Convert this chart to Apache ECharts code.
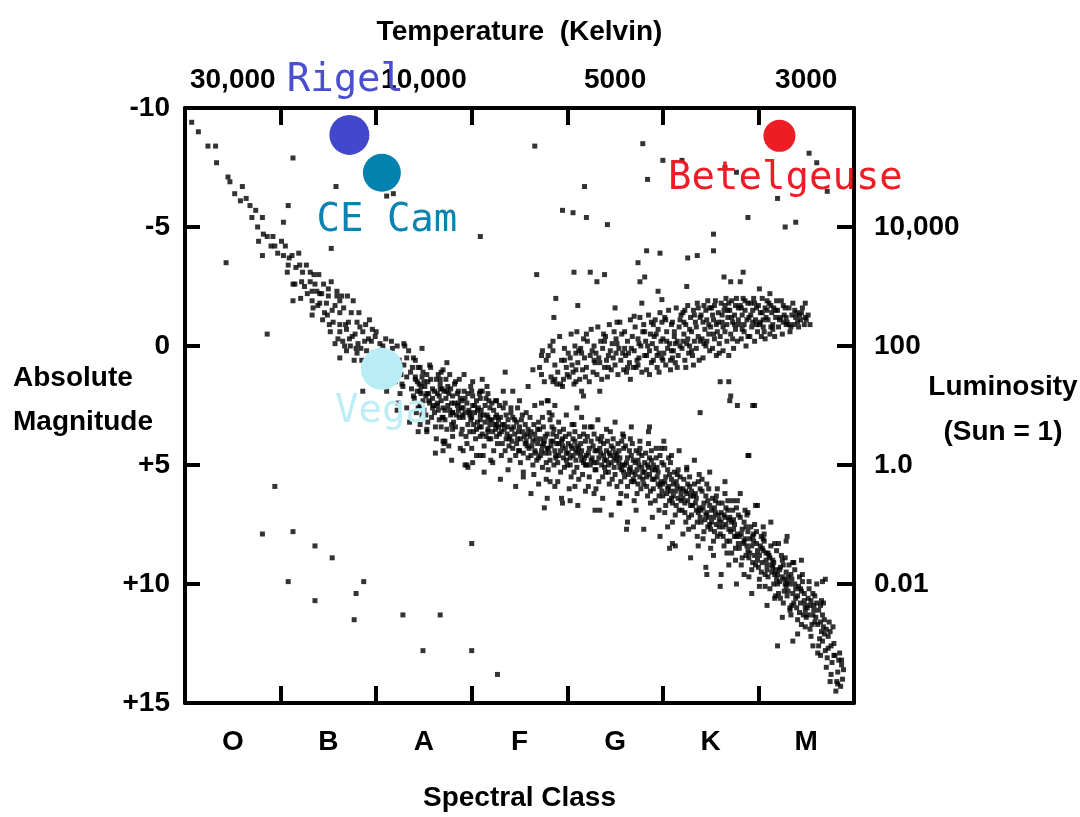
<!DOCTYPE html>
<html><head><meta charset="utf-8">
<script src="https://cdn.jsdelivr.net/npm/echarts@6/dist/echarts.min.js"></script>
<style>html,body{margin:0;padding:0;background:#fff}#c{width:1080px;height:817px}</style>
</head><body><div id="c"></div>
<script>
// ---- axis content ----
const spectralClasses = ['O','B','A','F','G','K','M'];
const temperatureLabels = ['30,000','','10,000','','5000','','3000'];
const magnitudeTicks = [-10,-5,0,5,10,15];
const luminosityLabels = ['','10,000','100','1.0','0.01',''];

// ---- named stars: [spectral position (0-70), absolute magnitude] ----
const starNames = ['Rigel','CE Cam','Betelgeuse','Vega'];
const starValues = [[17.2,-8.87],[20.6,-7.28],[62.2,-8.83],[20.6,0.96]];

// ---- star field: [spectral position (O0=0 ... M=60-70), absolute magnitude] ----
const mainSequenceUpper = [
[0.7,-9.4],[1.4,-9.0],[2.4,-8.4],[3.2,-8.4],[3.3,-7.7],[4.5,-7.1],[4.7,-6.9],[5.2,-6.4],[6.0,-6.7],[6.4,-6.2],[5.8,-6.1],[6.8,-5.9],[7.4,-5.7],[7.0,-5.4],[8.1,-5.4],[7.6,-5.0],[8.2,-4.7],[7.7,-4.4],[8.6,-4.6],[9.0,-4.2],[8.1,-3.8],[9.4,-4.2],[10.5,-4.2],[10.3,-3.8],[11.2,-3.8],[10.8,-3.4],[10.7,-3.1],[12.0,-3.4],[12.3,-3.1],[13.1,-3.1],[11.5,-2.6],[12.2,-2.7],[13.6,-2.6],[13.8,-2.3],[13.3,-1.9],[14.3,-2.2],[15.0,-2.1],[15.9,-2.1],[16.2,-1.9],
[11.3,-2.6],[13.1,-2.7],[11.3,-1.9],[13.3,-2.3],[14.1,-2.2],[15.0,-2.4],[15.9,-2.3],[16.4,-2.1],[13.4,-1.6],[14.1,-1.8],[14.6,-1.4],[15.4,-1.5],[16.2,-1.4],[13.3,-1.3],[14.4,-1.1],[15.5,-1.0],[16.2,-0.9],[17.1,-1.0],[18.0,-1.0],[15.2,-0.6],[16.2,-0.6],[16.9,-0.7],[17.8,-0.5],[18.6,-0.6],[19.6,-0.7],[15.7,-0.1],[16.5,-0.2],[17.3,0.0],[18.1,-0.1],[18.8,-0.2],[19.9,-0.4],[16.2,0.5],[16.9,0.2],[18.0,0.3],[20.7,0.0],[21.7,0.1],[19.4,0.5],[20.9,0.8],[22.0,1.0],
[17.5,-0.4],[18.4,0.1],[19.0,0.2],[19.2,-0.3],[20.1,0.4],[20.4,-0.1],[21.2,0.5],[21.5,0.9],[22.4,0.6],[22.6,1.2],[17.7,0.6],[19.8,1.0],[14.8,-1.8],[12.8,-2.2],[17.4,-1.4],[18.3,-0.8],
[9.2,-4.6],[9.7,-3.9],[10.1,-4.4],[10.9,-3.7],[11.6,-3.3],[11.9,-3.9],[12.5,-2.5],[12.7,-3.4],[13.5,-3.0],[13.9,-1.7],[14.5,-2.6],[14.9,-1.3],[15.3,-2.7],[15.7,-1.7],[16.0,-0.3],[16.6,-1.6],[16.8,-0.9],[17.2,-0.3],[17.6,-1.9],[17.9,0.1],[18.2,-1.4],[18.5,0.6],[18.9,-0.9],[19.1,0.9],[19.5,-0.2],[19.7,0.3],[20.0,-0.6],[20.2,1.2],[20.5,0.2],[21.0,-0.3],[21.4,1.4],[21.8,0.5],[22.2,0.0],[22.7,1.6],[22.9,0.8],[23.4,0.2],[23.6,1.1],[23.9,2.1],[12.1,-2.0],[14.0,-3.0],[15.1,-0.9],[16.7,0.0],[17.0,-2.1],[19.3,-1.1],[20.8,1.6],[21.6,-0.2],[22.5,2.0],[23.0,0.0],
[23.2,0.5],[23.8,0.9],[24.6,0.9],[23.2,1.3],[24.1,1.4],[24.8,1.3],[25.4,1.5],[26.7,1.4],[27.7,1.2],[27.0,1.0],[22.8,1.7],[23.7,1.8],[24.6,1.9],[25.3,2.0],[25.9,2.2],[26.7,1.8],[27.4,1.9],[28.0,2.1],[28.6,2.4],[26.4,2.5],[27.2,2.7],[28.0,2.8],[29.0,2.9],[29.8,2.8],[30.1,1.5],[31.1,1.4],[30.9,1.9],[31.7,2.0],[32.6,2.3],[30.1,2.5],[30.9,3.1],[31.9,3.1],[32.6,3.3],[31.7,3.5],[28.0,3.8],[27.0,4.0],[29.1,4.4],[30.1,4.9],[29.5,5.0],[30.9,4.6],[18.6,1.9],[21.1,1.9],[22.0,1.5],[23.2,2.6],[22.2,2.7],[26.8,3.4],[27.2,4.0],[27.0,4.4],[29.3,5.0]
];
const mainSequenceLower = [
[24.1,1.3],[24.6,2.5],[24.3,1.9],[24.9,1.1],[24.2,2.8],[24.7,2.0],[24.4,0.9],[24.8,2.9],[24.5,1.6],[24.0,2.2],[24.6,3.3],[24.3,1.5],[24.9,2.3],[24.1,0.6],[24.7,1.7],[24.4,2.6],
[25.2,2.1],[25.7,1.4],[25.0,2.7],[25.5,2.0],[25.9,2.6],[25.3,1.2],[25.8,3.0],[25.1,1.7],[25.6,2.4],[25.4,3.2],[25.9,1.8],[25.2,2.9],[25.7,0.9],[25.5,2.3],[25.0,1.5],[25.3,3.6],
[26.4,2.0],[26.1,2.8],[26.8,2.3],[26.3,1.4],[26.6,3.1],[26.0,2.5],[26.9,1.8],[26.5,2.7],[26.2,3.4],[26.7,1.6],[26.4,2.4],[26.9,3.0],[26.1,1.9],[26.6,2.1],[26.3,3.9],[26.8,1.1],
[27.3,2.2],[27.8,2.9],[27.0,2.6],[27.5,1.7],[27.9,2.4],[27.2,3.1],[27.6,2.0],[27.4,3.5],[27.1,1.9],[27.7,2.7],[27.3,1.4],[27.9,3.3],[27.5,2.5],[27.0,3.0],[27.8,1.8],[27.6,4.2],
[28.2,2.4],[28.7,3.0],[28.5,2.0],[28.0,2.8],[28.9,2.6],[28.3,3.4],[28.6,1.9],[28.1,3.2],[28.8,2.2],[28.4,2.9],[28.9,3.7],[28.2,1.6],[28.6,2.7],[28.0,3.5],[28.5,2.5],[28.7,1.4],
[29.1,2.6],[29.6,3.3],[29.3,2.2],[29.8,2.9],[29.0,3.5],[29.5,2.4],[29.9,3.1],[29.2,1.9],[29.7,2.7],[29.4,3.8],[29.1,3.0],[29.6,2.0],[29.8,3.6],[29.3,2.8],[29.0,2.3],[29.5,4.1],[29.9,1.7],
[30.3,2.8],[30.8,3.4],[30.0,3.0],[30.5,2.3],[30.9,2.9],[30.2,3.6],[30.7,2.6],[30.4,3.9],[30.1,2.1],[30.6,3.2],[30.9,3.8],[30.3,2.5],[30.8,2.0],[30.5,3.5],[30.0,4.3],[30.6,2.7],[30.2,3.3],
[31.2,2.9],[31.7,3.6],[31.4,3.2],[31.9,2.6],[31.0,3.4],[31.5,2.2],[31.8,3.9],[31.1,3.7],[31.6,2.9],[31.3,4.2],[31.9,3.3],[31.4,2.5],[31.7,3.0],[31.0,2.7],[31.5,3.8],[31.2,4.6],[31.8,2.3],
[32.1,3.1],[32.6,3.8],[32.3,2.7],[32.8,3.4],[32.0,3.9],[32.5,3.0],[32.9,2.5],[32.2,3.6],[32.7,4.1],[32.4,3.3],[32.9,3.7],[32.1,2.4],[32.6,2.9],[32.3,4.4],[32.8,3.1],[32.5,3.5],[32.0,4.8],
[33.4,3.3],[33.9,3.9],[33.1,3.6],[33.6,2.9],[33.2,4.1],[33.8,3.4],[33.5,4.4],[33.0,3.0],[33.7,3.7],[33.3,2.6],[33.9,4.2],[33.4,3.5],[33.6,3.9],[33.1,4.6],[33.8,3.1],[33.2,3.3],[33.5,2.4],
[34.2,3.5],[34.7,4.1],[34.0,3.8],[34.5,3.1],[34.9,3.6],[34.3,4.3],[34.8,3.9],[34.1,2.8],[34.6,4.6],[34.4,3.4],[34.9,4.4],[34.2,4.0],[34.7,3.2],[34.0,4.8],[34.5,3.7],[34.8,2.6],[34.3,3.0],
[35.3,3.6],[35.8,4.2],[35.1,3.9],[35.6,3.3],[35.0,4.4],[35.5,3.8],[35.9,4.7],[35.2,3.1],[35.7,4.0],[35.4,4.5],[35.9,3.5],[35.1,4.9],[35.6,4.1],[35.3,2.9],[35.8,3.7],[35.0,3.4],[35.4,5.3],
[36.1,3.8],[36.6,4.4],[36.4,4.0],[36.9,3.5],[36.2,4.6],[36.7,3.9],[36.0,4.3],[36.5,3.3],[36.8,4.8],[36.3,4.2],[36.9,4.1],[36.1,3.0],[36.6,3.7],[36.4,5.0],[36.7,4.5],[36.2,3.6],[36.5,5.4],
[37.2,3.9],[37.7,4.5],[37.4,4.2],[37.9,3.7],[37.0,4.7],[37.5,3.4],[37.8,4.9],[37.3,4.4],[37.6,4.0],[37.1,3.5],[37.9,4.3],[37.4,5.1],[37.7,3.8],[37.2,4.6],[37.5,4.1],[37.0,3.2],[37.8,5.6],
[38.3,4.0],[38.8,4.6],[38.0,4.3],[38.5,3.7],[38.9,4.1],[38.2,4.8],[38.7,4.4],[38.4,3.4],[38.1,4.5],[38.6,5.0],[38.9,3.8],[38.3,4.2],[38.6,3.5],[38.0,5.2],[38.8,4.7],[38.5,4.0],[38.2,3.1],
[39.1,4.1],[39.6,4.7],[39.3,4.4],[39.8,3.8],[39.0,4.9],[39.5,4.2],[39.9,4.5],[39.2,3.6],[39.7,5.1],[39.4,4.0],[39.9,4.8],[39.1,4.6],[39.6,3.5],[39.3,5.3],[39.8,4.3],[39.5,3.9],[39.0,5.7],
[40.4,4.2],[40.9,4.8],[40.1,4.5],[40.6,3.9],[40.0,5.0],[40.5,4.3],[40.8,4.0],[40.3,4.7],[40.7,5.3],[40.2,3.7],[40.9,4.4],[40.4,5.5],[40.6,4.6],[40.1,4.1],[40.8,3.6],[40.3,5.0],[40.5,3.3],
[41.2,4.3],[41.7,4.9],[41.4,4.6],[41.9,4.0],[41.0,5.1],[41.5,4.4],[41.8,4.7],[41.3,3.8],[41.6,5.4],[41.1,4.5],[41.9,5.0],[41.4,4.1],[41.7,3.7],[41.2,5.6],[41.5,4.8],[41.0,4.2],[41.8,3.4],
[42.3,4.3],[42.8,4.9],[42.0,4.6],[42.5,4.0],[42.9,5.2],[42.2,4.5],[42.7,4.2],[42.4,5.0],[42.1,3.8],[42.6,4.7],[42.9,4.4],[42.3,5.5],[42.8,3.7],[42.0,5.0],[42.5,4.8],[42.6,3.4],[42.2,5.9],
[43.1,4.4],[43.6,5.0],[43.3,4.7],[43.8,4.1],[43.0,5.2],[43.5,4.5],[43.9,4.8],[43.2,3.9],[43.7,5.5],[43.4,4.3],[43.9,5.1],[43.1,4.9],[43.6,3.8],[43.3,5.7],[43.8,4.6],[43.5,4.0],[43.0,6.0],
[44.4,4.5],[44.9,5.1],[44.1,4.8],[44.6,4.2],[44.0,5.3],[44.5,4.6],[44.8,4.3],[44.3,5.0],[44.7,5.6],[44.2,4.0],[44.9,4.7],[44.4,5.8],[44.6,4.9],[44.1,4.4],[44.8,3.9],[44.3,5.3],[44.5,3.6],
[45.2,4.6],[45.7,5.2],[45.4,4.9],[45.9,4.3],[45.0,5.4],[45.5,4.7],[45.8,5.0],[45.3,4.1],[45.6,5.7],[45.1,4.8],[45.9,5.3],[45.4,4.4],[45.7,4.0],[45.2,5.9],[45.5,5.1],[45.0,4.5],[45.8,3.7],[45.6,6.2],
[46.3,4.7],[46.8,5.3],[46.0,5.0],[46.5,4.4],[46.9,5.6],[46.2,4.9],[46.7,4.6],[46.4,5.4],[46.1,4.2],[46.6,5.1],[46.9,4.8],[46.3,5.9],[46.8,4.1],[46.0,5.5],[46.5,5.2],[46.6,3.9],[46.2,6.3],[46.7,5.7],
[47.1,4.9],[47.6,5.5],[47.3,5.2],[47.8,4.6],[47.0,5.7],[47.5,5.0],[47.9,5.3],[47.2,4.4],[47.7,6.0],[47.4,4.8],[47.9,5.6],[47.1,5.4],[47.6,4.3],[47.3,6.2],[47.8,5.1],[47.5,4.5],[47.0,6.5],[47.4,5.8],
[48.4,5.0],[48.9,5.6],[48.1,5.3],[48.6,4.7],[48.0,5.8],[48.5,5.1],[48.8,4.8],[48.3,5.5],[48.7,6.1],[48.2,4.5],[48.9,5.2],[48.4,6.3],[48.6,5.4],[48.1,4.9],[48.8,4.4],[48.3,5.9],[48.5,4.1],[48.7,6.6],
[49.2,5.2],[49.7,5.9],[49.4,5.5],[49.9,4.9],[49.0,6.0],[49.5,5.3],[49.8,5.7],[49.3,4.7],[49.6,6.3],[49.1,5.6],[49.9,6.1],[49.4,5.1],[49.7,4.6],[49.2,6.5],[49.5,5.8],[49.0,5.0],[49.8,4.3],[49.6,6.9],
[50.3,5.5],[50.8,6.1],[50.0,5.8],[50.5,5.2],[50.9,6.4],[50.2,5.7],[50.7,5.4],[50.4,6.2],[50.1,5.0],[50.6,5.9],[50.9,5.6],[50.3,6.7],[50.8,4.9],[50.0,6.3],[50.5,6.0],[50.6,4.7],[50.2,7.0],[50.7,6.5],
[51.1,5.8],[51.6,6.4],[51.3,6.1],[51.8,5.5],[51.0,6.6],[51.5,5.9],[51.9,6.2],[51.2,5.3],[51.7,6.9],[51.4,5.7],[51.9,6.5],[51.1,6.3],[51.6,5.2],[51.3,7.1],[51.8,6.0],[51.5,5.4],[51.0,7.4],[51.4,6.7],
[52.4,6.1],[52.9,6.7],[52.1,6.4],[52.6,5.8],[52.0,6.9],[52.5,6.2],[52.8,5.9],[52.3,6.6],[52.7,7.2],[52.2,5.6],[52.9,6.3],[52.4,7.4],[52.6,6.5],[52.1,6.0],[52.8,5.5],[52.3,7.0],[52.5,5.2],[52.7,7.7],
[53.2,6.3],[53.7,7.0],[53.4,6.6],[53.9,6.0],[53.0,7.1],[53.5,6.4],[53.8,6.8],[53.3,5.8],[53.6,7.4],[53.1,6.7],[53.9,7.2],[53.4,6.2],[53.7,5.7],[53.2,7.6],[53.5,6.9],[53.0,6.1],[53.8,5.4],[53.6,8.0],
[54.3,6.6],[54.8,7.2],[54.0,6.9],[54.5,6.3],[54.9,7.5],[54.2,6.8],[54.7,6.5],[54.4,7.3],[54.1,6.1],[54.6,7.0],[54.9,6.7],[54.3,7.8],[54.8,6.0],[54.0,7.4],[54.5,7.1],[54.6,5.8],[54.2,8.1],[54.7,7.6],
[55.1,6.9],[55.6,7.5],[55.3,7.2],[55.8,6.6],[55.0,7.7],[55.5,7.0],[55.9,7.3],[55.2,6.4],[55.7,8.0],[55.4,6.8],[55.9,7.6],[55.1,7.4],[55.6,6.3],[55.3,8.2],[55.8,7.1],[55.5,6.5],[55.0,8.5],[55.4,7.8],
[56.4,7.1],[56.9,7.7],[56.1,7.4],[56.6,6.8],[56.0,7.9],[56.5,7.2],[56.8,6.9],[56.3,7.6],[56.7,8.2],[56.2,6.6],[56.9,7.3],[56.4,8.4],[56.6,7.5],[56.1,7.0],[56.8,6.5],[56.3,8.0],[56.5,6.2],[56.7,8.7],
[57.2,7.4],[57.7,8.0],[57.4,7.7],[57.9,7.1],[57.0,8.2],[57.5,7.5],[57.8,7.9],[57.3,6.9],[57.6,8.5],[57.1,7.8],[57.9,8.3],[57.4,7.3],[57.7,6.8],[57.2,8.7],[57.5,8.0],[57.0,7.2],[57.8,6.5],[57.6,9.0],
[58.3,7.7],[58.8,8.4],[58.0,8.0],[58.5,7.4],[58.9,8.6],[58.2,7.9],[58.7,7.6],[58.4,8.3],[58.1,7.2],[58.6,8.1],[58.9,7.8],[58.3,8.9],[58.8,7.1],[58.0,8.5],[58.5,8.2],[58.6,6.9],[58.2,9.2],[58.7,8.8],
[59.1,8.1],[59.6,8.8],[59.3,8.4],[59.8,7.8],[59.0,8.9],[59.5,8.2],[59.9,8.6],[59.2,7.6],[59.7,9.2],[59.4,8.0],[59.9,9.0],[59.1,8.7],[59.6,7.5],[59.3,9.4],[59.8,8.3],[59.5,7.9],[59.0,9.7],[59.4,9.1],
[60.4,8.5],[60.9,9.2],[60.1,8.8],[60.6,8.2],[60.0,9.3],[60.5,8.6],[60.8,9.0],[60.3,8.0],[60.7,9.6],[60.2,8.4],[60.9,9.4],[60.4,9.1],[60.6,7.9],[60.1,9.8],[60.8,8.7],[60.3,9.5],[60.5,8.1],[60.7,10.1],
[61.2,8.9],[61.7,9.6],[61.4,9.2],[61.9,8.6],[61.0,9.7],[61.5,9.0],[61.8,9.4],[61.3,8.4],[61.6,10.0],[61.1,8.8],[61.9,9.8],[61.4,9.5],[61.7,8.3],[61.2,10.2],[61.5,9.3],[61.0,8.7],[61.8,10.5],[61.6,9.1],
[62.3,9.3],[62.8,10.0],[62.0,9.6],[62.5,9.0],[62.9,10.1],[62.2,9.4],[62.7,9.8],[62.4,8.8],[62.1,10.4],[62.6,9.2],[62.9,9.5],[62.3,10.6],[62.8,8.9],[62.0,10.0],[62.5,9.7],[62.6,10.8],[62.2,9.9],[62.7,10.3],
[63.1,9.7],[63.6,10.4],[63.3,10.0],[63.8,9.4],[63.0,10.5],[63.5,9.8],[63.9,10.2],[63.2,9.2],[63.7,10.8],[63.4,9.6],[63.9,10.6],[63.1,10.3],[63.6,9.1],[63.3,11.0],[63.8,10.0],[63.5,10.9],[63.0,9.9],[63.4,11.3],
[64.4,10.2],[64.9,10.9],[64.1,10.5],[64.6,9.9],[64.0,11.0],[64.5,10.3],[64.8,10.7],[64.3,9.7],[64.7,11.3],[64.2,10.1],[64.9,11.1],[64.4,10.8],[64.6,9.6],[64.1,11.5],[64.8,10.4],[64.3,11.2],[64.5,11.7],
[65.2,10.6],[65.7,11.3],[65.4,10.9],[65.9,10.5],[65.0,11.4],[65.5,10.7],[65.8,11.1],[65.3,10.2],[65.6,11.7],[65.1,11.0],[65.9,11.6],[65.4,11.9],[65.7,10.4],[65.2,11.3],[65.5,12.2],[65.8,10.9],
[66.3,11.1],[66.8,11.8],[66.0,11.4],[66.5,10.9],[66.9,12.1],[66.2,11.7],[66.7,11.3],[66.4,12.3],[66.1,10.8],[66.6,12.0],[66.9,11.5],[66.3,12.6],[66.8,10.8],[66.5,11.6],[66.2,12.9],[66.7,12.4],
[67.1,11.9],[67.6,12.6],[67.3,12.2],[67.8,11.8],[67.0,12.8],[67.5,12.0],[67.9,12.5],[67.2,13.1],[67.7,13.3],[67.4,11.6],[67.9,13.0],[67.1,13.5],[67.6,13.8],[67.3,12.7],[67.5,14.1],
[68.0,13.0],[68.3,13.7],[68.5,12.9],[68.7,13.4],[68.2,14.1],[68.6,14.3],[68.9,13.6],[68.4,13.2],[68.1,14.5],[68.8,14.0]
];
const mainSequenceHalo = [
[22.3,2.4],[22.9,-0.1],[23.5,3.2],[23.9,0.5],[24.4,3.6],[24.8,0.1],[25.3,3.5],[25.6,0.8],[26.2,4.5],[26.5,1.2],[27.1,4.1],[27.4,0.7],[27.9,4.8],[28.3,1.5],[28.8,4.3],[29.2,1.2],[29.6,5.1],[30.0,1.9],[30.5,4.6],[30.9,2.2],[31.3,5.3],[31.6,1.7],[32.2,4.9],[32.5,2.3],[33.0,5.6],[33.3,1.9],[33.8,5.2],[34.1,2.6],[34.6,5.9],[35.0,2.3],[35.4,5.5],[35.7,2.8],[36.2,6.2],[36.6,2.5],[37.0,5.8],[37.4,3.0],[37.9,6.4],[38.1,2.8],[38.7,5.9],[39.1,3.2],[39.5,6.6],[39.9,2.9],[40.2,6.0],[40.7,3.3],[41.1,6.7],[41.5,3.0],[41.9,6.1],[42.4,3.4],[42.9,6.9],[43.2,3.1],[43.7,6.4],[44.1,3.5],[44.6,7.1],[45.0,3.2],[45.4,6.6],[45.9,3.8],[46.3,7.4],[46.7,3.4],[47.2,6.9],[47.6,4.0],[48.0,7.7],[48.5,3.6],[48.9,7.2],[49.3,4.3],[49.7,8.0],[50.1,4.0],[50.5,7.6],[50.9,4.6],[51.3,8.4],[51.7,4.4],[52.1,7.9],[52.5,5.1],[52.9,8.9],[53.3,4.8],[53.7,8.4],[54.1,5.6],[54.5,9.3],[54.9,5.3],[55.3,8.8],[55.7,6.0],[56.1,9.6],[56.5,5.7],[56.9,9.2],[57.3,6.5],[57.7,10.0],[58.1,6.2],[58.5,9.6],[58.9,7.0],[59.3,10.4],[59.7,6.7],[60.1,10.1],[60.5,7.6],[60.9,10.9],[61.3,7.4],[61.7,10.6],[62.1,8.3],[62.5,11.4],[62.9,8.2],[63.3,11.1],[63.7,9.1],[64.1,12.1],[64.5,9.0],[64.9,11.8],[65.3,9.9],[65.7,12.6],[66.1,10.0],[66.5,13.0]
];
const mainSequenceStrays = [
[46.2,7.7],[51.0,8.3],[50.7,8.5],[54.6,9.6],[56.0,10.1],[62.0,12.6],[63.6,12.4],[58.9,4.6],[59.9,6.7],[63.0,8.0],[66.7,9.9],[67.0,9.8],[66.6,10.7],[68.7,13.2],[68.3,14.2],[38.2,5.7],[39.4,6.4],[40.3,6.5],[37.6,6.8],[43.4,6.9],[42.8,6.2],[40.8,5.9],[45.5,6.6]
];
const subgiants = [
[38.5,1.5],[33.5,1.1],[36.4,1.0],[31.1,1.9],[34.3,1.9],[35.9,1.7],[37.9,2.3],[38.7,2.5],[41.0,2.6],[43.4,1.9],[41.7,2.1],[48.6,3.4],[50.2,4.3],[37.3,0.4],[38.5,0.2],[39.7,0.6],[40.9,0.3],[38.4,2.9],[38.7,1.4],[39.5,1.7],[40.6,1.1],[41.5,1.9],[56.0,1.5],[57.0,2.3],[57.8,2.5],[59.4,2.5],[57.1,2.1],[59.6,2.5],[53.9,2.8],[59.0,4.6],[38.0,2.3],[37.3,2.4],[40.9,1.5],[56.9,1.5]
];
const giants = [
[37.1,0.9],[37.4,0.2],[37.6,1.5],[37.8,0.6],[37.3,1.2],
[38.0,0.4],[38.3,1.3],[38.5,-0.2],[38.7,0.8],[38.9,1.6],[38.2,0.0],
[39.0,1.1],[39.2,-0.4],[39.4,0.6],[39.6,1.4],[39.7,0.1],[39.9,0.9],[39.3,1.6],
[40.1,0.3],[40.2,1.3],[40.4,-0.5],[40.5,0.8],[40.7,1.6],[40.8,0.0],[40.9,1.0],[40.3,0.5],
[41.0,-0.6],[41.1,0.7],[41.3,1.4],[41.4,0.1],[41.6,1.0],[41.7,-0.3],[41.8,0.5],[41.9,1.3],[41.5,0.3],
[42.0,0.9],[42.1,-0.2],[42.3,1.5],[42.4,0.4],[42.5,-0.7],[42.7,1.1],[42.8,0.0],[42.9,0.7],[42.6,0.2],
[43.0,0.3],[43.1,1.2],[43.2,-0.8],[43.4,0.7],[43.5,-0.2],[43.6,1.4],[43.7,0.1],[43.8,-0.5],[43.9,0.9],[43.3,0.5],
[44.0,-0.4],[44.1,0.6],[44.2,1.3],[44.4,-0.9],[44.5,0.2],[44.6,1.0],[44.7,-0.1],[44.8,0.5],[44.9,-0.6],[44.3,0.9],
[45.0,0.8],[45.1,-0.3],[45.3,1.2],[45.4,0.1],[45.5,-1.0],[45.6,0.6],[45.7,-0.5],[45.8,0.3],[45.9,1.0],[45.2,-0.1],
[46.0,-0.6],[46.1,0.4],[46.2,1.1],[46.3,-0.2],[46.5,0.7],[46.6,-1.1],[46.7,0.1],[46.8,-0.4],[46.9,0.9],[46.4,0.3],[46.6,1.4],
[47.0,0.2],[47.1,-0.8],[47.2,0.9],[47.4,-0.3],[47.5,0.5],[47.6,-1.2],[47.7,0.0],[47.8,1.1],[47.9,-0.6],[47.3,0.6],[47.5,-0.1],
[48.0,-0.9],[48.1,0.4],[48.2,-0.2],[48.3,1.0],[48.5,-1.3],[48.6,0.2],[48.7,-0.5],[48.8,0.7],[48.9,-0.1],[48.4,0.0],[48.6,1.2],
[49.0,0.6],[49.1,-0.4],[49.2,-1.1],[49.3,0.1],[49.4,0.9],[49.5,-0.7],[49.6,0.3],[49.7,-1.4],[49.8,-0.2],[49.9,0.5],[49.3,-0.5],[49.6,1.1],
[50.0,-0.3],[50.1,0.3],[50.2,-1.2],[50.3,0.8],[50.4,-0.6],[50.5,0.1],[50.6,-1.5],[50.7,-0.1],[50.8,0.6],[50.9,-0.9],[50.4,-0.2],[50.8,1.0],
[51.0,-1.0],[51.1,0.2],[51.2,-0.4],[51.3,0.7],[51.4,-1.6],[51.5,-0.2],[51.6,0.4],[51.7,-0.8],[51.8,0.0],[51.9,-1.3],[51.5,0.9],[51.2,-0.6],
[52.0,0.1],[52.1,-1.4],[52.2,-0.5],[52.3,0.6],[52.4,-0.9],[52.5,-0.1],[52.6,-1.7],[52.7,0.3],[52.8,-0.7],[52.9,-1.2],[52.4,0.9],[52.6,-0.3],[52.2,-1.0],
[53.0,-0.6],[53.1,0.4],[53.2,-1.5],[53.3,-0.2],[53.4,-1.0],[53.5,0.1],[53.6,-1.8],[53.7,-0.4],[53.8,0.6],[53.9,-1.2],[53.5,-0.8],[53.2,0.8],[53.7,-1.6],
[54.0,-1.3],[54.1,-0.3],[54.2,0.5],[54.3,-1.7],[54.4,-0.7],[54.5,0.0],[54.6,-1.1],[54.7,-1.9],[54.8,-0.5],[54.9,0.2],[54.5,-1.5],[54.3,-0.1],[54.8,-0.9],
[55.0,-0.8],[55.1,-1.6],[55.2,0.1],[55.3,-1.1],[55.4,-0.3],[55.5,-1.9],[55.6,0.4],[55.7,-0.6],[55.8,-1.4],[55.9,-0.1],[55.4,-1.7],[55.6,-0.9],[55.2,-1.3],
[56.0,-0.4],[56.1,-1.8],[56.2,-1.0],[56.3,0.2],[56.4,-1.5],[56.5,-0.6],[56.6,-2.0],[56.7,-0.2],[56.8,-1.2],[56.9,0.4],[56.5,-1.7],[56.3,-0.8],[56.8,-1.5],
[57.0,-1.5],[57.1,-0.5],[57.2,-1.9],[57.3,-1.0],[57.4,0.1],[57.5,-1.3],[57.6,-0.7],[57.7,-2.0],[57.8,-0.2],[57.9,-1.6],[57.5,-0.9],[57.2,-1.2],
[58.0,-0.9],[58.1,-1.7],[58.2,-0.3],[58.3,-1.3],[58.4,-2.0],[58.5,-0.6],[58.6,-1.5],[58.7,0.0],[58.8,-1.1],[58.9,-1.8],[58.5,-0.9],[58.2,-1.6],
[59.0,-1.2],[59.1,-0.4],[59.2,-1.8],[59.3,-0.8],[59.4,-1.5],[59.5,-2.0],[59.6,-0.2],[59.7,-1.1],[59.8,-1.6],[59.9,-0.6],[59.4,-1.0],
[60.0,-1.7],[60.1,-0.9],[60.2,-1.4],[60.3,-0.4],[60.4,-2.0],[60.5,-1.1],[60.6,-0.6],[60.7,-1.6],[60.8,-1.2],[60.9,-1.9],[60.5,-0.8],
[61.0,-1.1],[61.1,-1.8],[61.2,-0.5],[61.4,-1.4],[61.5,-0.9],[61.6,-1.6],[61.7,-0.4],[61.8,-1.2],[61.9,-1.9],[61.3,-0.8],
[62.0,-1.5],[62.1,-0.8],[62.3,-1.2],[62.4,-1.9],[62.5,-0.5],[62.6,-1.0],[62.8,-1.6],[62.9,-0.9],[62.7,-1.3],
[63.0,-1.0],[63.2,-1.6],[63.3,-0.6],[63.5,-1.3],[63.6,-1.8],[63.7,-0.9],[63.9,-1.2],[63.4,-0.8],
[64.0,-1.4],[64.2,-0.8],[64.4,-1.1],[64.6,-1.6],[64.8,-0.9],[64.3,-1.3],
[65.0,-1.1],[65.2,-1.3],[65.4,-0.9],
[48.1,-0.6],[48.8,-1.0],[49.4,0.4],[49.9,-1.0],[50.3,-1.1],[50.9,0.2],[51.3,-0.1],[51.8,-1.1],[52.3,-1.5],[52.8,0.0],[53.3,-1.3],[53.9,-0.2],[54.2,-1.0],[54.6,-0.2],[54.9,-1.6],[55.3,-0.5],[55.8,-1.0],[55.9,0.3],[56.2,-1.3],[56.7,-0.9],[56.9,-1.8],[57.3,-0.3],[57.6,-1.7],[57.9,-1.1],[58.3,-0.7],[58.6,-1.9],[58.9,-0.4],[59.2,-1.3],[59.6,-1.8],[59.8,-0.9],[60.2,-1.0],[60.4,-1.4],[60.7,-0.3],[60.9,-1.5],[61.3,-1.7],[61.5,-0.7],[61.8,-1.5],[62.2,-1.1],[62.6,-1.7],[62.9,-1.2],[63.2,-0.9],[63.8,-1.5],[64.1,-1.0],[64.5,-1.4],[64.9,-1.2],[44.3,0.4],[45.1,0.3],[46.3,0.9],[47.4,0.8],[48.3,0.4],[49.0,-0.9],[50.0,0.6],[51.0,0.5],[52.1,-0.2],[53.0,0.2],[46.0,0.1],[43.9,-0.2],[42.8,0.6],[41.2,0.2],[40.0,1.2]
];
const brightStars = [
[36.6,-8.4],[47.9,-8.5],[50.0,-7.8],[52.0,-7.8],[48.4,-7.0],[41.8,-6.7],[39.5,-5.7],[40.6,-5.6],[42.0,-5.4],[44.2,-5.1],[48.3,-4.0],[49.7,-3.9],[47.4,-3.5],[52.6,-3.7],[53.6,-3.8],[55.3,-4.7],[55.3,-4.0],[58.9,-5.4],[62.8,-5.0],[63.9,-5.2],
[36.8,-3.0],[40.7,-3.1],[42.4,-3.1],[43.1,-2.7],[43.9,-3.0],[48.1,-2.9],[47.6,-2.7],[49.5,-2.3],[52.5,-2.5],[56.4,-2.9],[57.1,-2.7],[58.1,-2.7],[58.4,-3.1],[60.1,-2.4],[61.2,-2.2],[38.8,-2.0],[41.1,-1.7],[45.0,-1.6],[47.8,-1.8],[38.6,-1.2],[42.0,-0.5],[45.2,-1.0],[47.0,-1.25],[49.9,-1.95],[64.9,-1.8],
[61.0,-8.6],[65.3,-8.1],[66.1,-7.7],[67.2,-6.5],[62.0,-6.2],[56.5,-7.5],[57.7,-7.3],
[11.3,-7.9],[4.3,-3.5],[8.6,-0.5],[15.8,-6.7],[10.8,-5.9],[10.3,-5.2],[15.3,-4.1],[21.1,-6.3],[21.8,-6.4],[30.9,-4.6]
];
const whiteDwarfs = [
[9.4,5.9],[8.1,7.9],[11.3,7.8],[13.6,8.4],[15.4,8.9],[10.8,9.9],[13.6,10.7],[18.7,9.9],[17.9,10.4],[17.7,11.5],[22.8,11.3],[26.7,11.3],[24.9,12.8],[30.0,12.8],[30.0,8.3],[32.7,13.8]
];

// ---- styling ----
const FONT = '"Liberation Sans",Arial,sans-serif';
const MONO = '"DejaVu Sans Mono",monospace';
const FS = 28;
const lbl = {fontFamily: FONT, fontWeight: 'bold', fontSize: FS, color: '#000'};
const axisLine = {show: true, onZero: false, lineStyle: {color: '#000', width: 4}};
const tick = (len) => ({show: true, inside: true, length: len, lineStyle: {color: '#000', width: 4}});
const starStyle = [
  {size: 40, color: '#4347cc', label: '#4a4fd2', offset: [-4, -54]},
  {size: 38, color: '#0382b0', label: '#0a83b3', offset: [5, 48]},
  {size: 32, color: '#ee1c25', label: '#ee1c25', offset: [6, 43]},
  {size: 42, color: '#b8ecf6', label: '#bdeef8', offset: [0, 43]}
];

const dotSeries = (data) => ({
  type: 'scatter', data: data, xAxisIndex: 0, yAxisIndex: 0,
  symbol: 'rect', symbolSize: 5, itemStyle: {color: '#000'}, silent: true, z: 2
});

const chart = echarts.init(document.getElementById('c'), null, {renderer: 'canvas'});
chart.setOption({
  animation: false,
  backgroundColor: '#fff',
  grid: {left: 185, right: 226, top: 108, bottom: 112, containLabel: false},
  xAxis: [
    {type: 'value', min: 0, max: 70, position: 'bottom', show: false},
    {type: 'category', data: spectralClasses, position: 'bottom', boundaryGap: true,
     axisLine: axisLine, axisTick: Object.assign(tick(17), {interval: 0}),
     axisLabel: Object.assign({margin: 25, interval: 0}, lbl),
     name: 'Spectral Class', nameLocation: 'middle', nameGap: 81, nameTextStyle: lbl,
     splitLine: {show: false}},
    {type: 'category', data: temperatureLabels, position: 'top', boundaryGap: true,
     axisLine: axisLine, axisTick: Object.assign(tick(17), {interval: 0}),
     axisLabel: Object.assign({margin: 14, interval: 0}, lbl),
     name: 'Temperature  (Kelvin)', nameLocation: 'middle', nameGap: 62, nameTextStyle: lbl,
     splitLine: {show: false}}
  ],
  yAxis: [
    {type: 'value', min: -10, max: 15, interval: 5, inverse: true, position: 'left',
     axisLine: axisLine, axisTick: tick(15), splitLine: {show: false},
     axisLabel: Object.assign({margin: 15, formatter: v => (v > 0 ? '+' + v : String(v))}, lbl)},
    {type: 'value', min: -10, max: 15, interval: 5, inverse: true, position: 'right',
     axisLine: axisLine, axisTick: tick(17), splitLine: {show: false},
     axisLabel: Object.assign({margin: 20, formatter: v => luminosityLabels[magnitudeTicks.indexOf(v)] || ''}, lbl)}
  ],
  graphic: [
    {type: 'text', x: 13, y: 400, style: {text: 'Absolute\nMagnitude', font: 'bold ' + FS + 'px ' + FONT, fill: '#000', lineHeight: 44, align: 'left', verticalAlign: 'middle'}},
    {type: 'text', x: 1003, y: 410, style: {text: 'Luminosity\n(Sun = 1)', font: 'bold ' + FS + 'px ' + FONT, fill: '#000', lineHeight: 45, align: 'center', verticalAlign: 'middle'}}
  ],
  series: [
    dotSeries(mainSequenceUpper),
    dotSeries(mainSequenceLower),
    dotSeries(mainSequenceHalo),
    dotSeries(mainSequenceStrays),
    dotSeries(subgiants),
    dotSeries(giants),
    dotSeries(brightStars),
    dotSeries(whiteDwarfs),
    {
      type: 'scatter', xAxisIndex: 0, yAxisIndex: 0, z: 5, silent: true,
      data: starNames.map((n, i) => ({
        name: n, value: starValues[i], symbolSize: starStyle[i].size,
        itemStyle: {color: starStyle[i].color, opacity: 1},
        label: {show: true, formatter: '{b}', position: 'inside', offset: starStyle[i].offset,
                color: starStyle[i].label, fontFamily: MONO, fontSize: 39}
      }))
    }
  ]
});
</script>
</body></html>
